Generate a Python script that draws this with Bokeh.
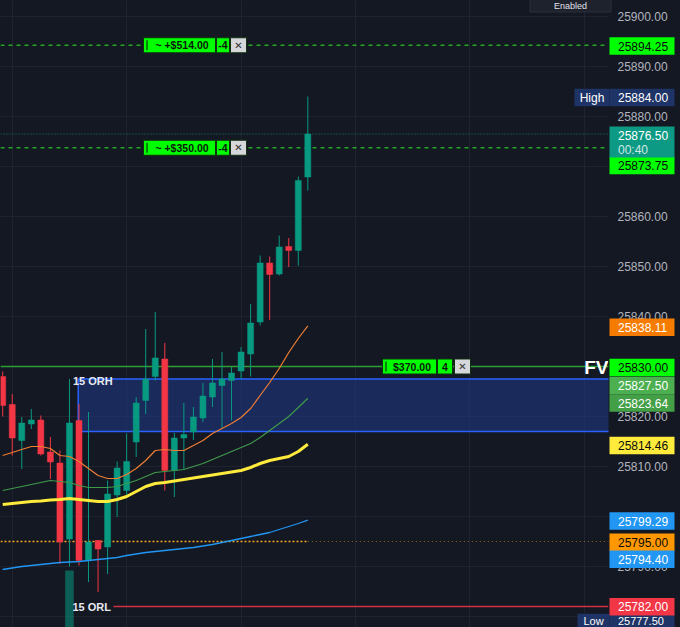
from bokeh.plotting import figure
from bokeh.models import (Range1d, FixedTicker, NumeralTickFormatter, ColumnDataSource,
                          Grid, GlobalInlineStyleSheet)
from bokeh.core.properties import value
from bokeh.embed import file_html
from bokeh.resources import INLINE

# ---------------- data ----------------
candle_idx = list(range(33))
opens = [25828.0, 25822.4, 25815.2, 25818.5, 25819.3, 25812.9, 25810.7, 25795.5, 25819.2, 25791.2,
         25795.2, 25793.9, 25804.3, 25805.2, 25814.9, 25823.2, 25828.0, 25831.5, 25809.2, 25815.7,
         25816.9, 25819.7, 25823.9, 25826.2, 25827.2, 25829.1, 25832.5, 25838.9, 25850.7, 25848.5,
         25854.0, 25853.2, 25867.9]
highs = [25829.0, 25824.5, 25819.9, 25821.5, 25820.2, 25815.9, 25813.2, 25827.5, 25822.5, 25820.9,
         25795.3, 25807.2, 25811.0, 25816.6, 25823.9, 25837.5, 25840.9, 25834.7, 25816.7, 25822.7,
         25821.9, 25826.7, 25831.5, 25832.9, 25829.9, 25833.9, 25842.5, 25852.2, 25852.0, 25856.2,
         25855.7, 25868.0, 25884.0]
lows = [25820.0, 25812.2, 25809.5, 25817.5, 25812.2, 25807.5, 25790.5, 25790.0, 25790.2, 25786.9,
        25784.9, 25788.5, 25799.9, 25804.0, 25811.9, 25820.5, 25827.2, 25805.2, 25803.9, 25809.5,
        25815.3, 25818.9, 25821.9, 25817.7, 25819.2, 25827.5, 25828.0, 25838.2, 25839.3, 25848.2,
        25849.9, 25850.2, 25865.2]
closes = [25822.2, 25815.7, 25818.7, 25819.3, 25812.5, 25810.9, 25794.9, 25818.7, 25791.2, 25794.9,
          25793.5, 25804.5, 25809.7, 25811.0, 25822.7, 25827.5, 25831.7, 25809.2, 25815.7, 25816.4,
          25819.9, 25824.1, 25826.7, 25827.5, 25828.7, 25832.9, 25838.7, 25850.7, 25848.4, 25853.9,
          25853.2, 25867.2, 25876.5]

ema_orange = [25812.2, 25812.8, 25813.4, 25814.0, 25814.0, 25813.6, 25812.2, 25812.0, 25811.0, 25809.6,
              25808.2, 25807.6, 25807.6, 25808.4, 25809.6, 25811.2, 25813.2, 25813.4, 25813.2, 25813.2,
              25814.2, 25815.2, 25816.6, 25817.6, 25818.6, 25819.8, 25821.6, 25824.2, 25826.8, 25829.6,
              25832.8, 25835.6, 25838.11]
ema_green = [25805.2, 25805.6, 25806.0, 25806.4, 25806.8, 25807.2, 25807.0, 25806.8, 25806.2, 25805.8,
             25805.8, 25805.8, 25806.0, 25806.6, 25807.2, 25808.0, 25808.8, 25809.0, 25809.2, 25809.4,
             25810.0, 25810.6, 25811.4, 25812.2, 25813.0, 25813.8, 25814.6, 25815.8, 25817.2, 25818.6,
             25820.0, 25821.8, 25823.64]
ema_yellow = [25802.4, 25802.6, 25802.8, 25803.0, 25803.1, 25803.3, 25803.4, 25803.6, 25803.4, 25803.2,
              25803.0, 25803.0, 25803.4, 25804.0, 25805.0, 25806.0, 25806.6, 25806.8, 25807.1, 25807.4,
              25807.7, 25808.0, 25808.3, 25808.6, 25808.9, 25809.2, 25809.8, 25810.6, 25811.2, 25811.6,
              25812.0, 25813.0, 25814.46]
ema_blue = [25789.4, 25789.7, 25790.0, 25790.2, 25790.4, 25790.6, 25790.8, 25790.9, 25791.0, 25791.2,
            25791.4, 25791.6, 25791.8, 25792.2, 25792.5, 25792.8, 25793.0, 25793.2, 25793.4, 25793.6,
            25793.8, 25794.1, 25794.4, 25794.8, 25795.2, 25795.6, 25796.0, 25796.4, 25796.8, 25797.4,
            25798.0, 25798.6, 25799.29]

volume_idx = [7]
volume_top = [25789.2]

axis_ticks = [25900, 25890, 25880, 25860, 25850, 25840, 25820, 25810, 25790]

fv_level = 25830.0
orh_level = 25827.5
zone_low = 25817.0
orl_level = 25782.0
dotted_level = 25795.0
target_levels = [25894.25, 25873.75]
last_price = 25876.5
countdown = "00:40"

order_main_texts = ["~ +$514.00", "~ +$350.00", "$370.00"]
order_qty_texts = ["-4", "-4", "4"]
order_levels = [25894.25, 25873.75, 25830.0]

tag_texts = ["25894.25", "25884.00", "25873.75", "25838.11", "25830.00", "25827.50", "25823.64",
             "25814.46", "25799.29", "25795.00", "25794.40", "25782.00"]
low_tag_text = "25777.50"

# ---------------- layout / style ----------------
BG = "#141823"
UP, DN = "#089981", "#f23645"
W, H = 680, 627
AXIS_W = 72
FRAME_W = W - AXIS_W
X_START, X_END = -0.231, 63.535
Y_START, Y_END = 25777.8, 25903.2
PX_X = FRAME_W / (X_END - X_START)
PX_Y = H / (Y_END - Y_START)
FONT = value("Liberation Sans")


def rx(px):
    return X_START + px / PX_X


def ry(py):
    return Y_END - py / PX_Y


def dpx(px):
    return px / PX_Y


p = figure(width=W, height=H, output_backend="svg", toolbar_location=None, tools="",
           x_range=Range1d(X_START, X_END), y_range=Range1d(Y_START, Y_END),
           y_axis_location="right", x_axis_location=None,
           min_border_left=0, min_border_top=0, min_border_bottom=0, min_border_right=AXIS_W,
           background_fill_color=BG, border_fill_color=BG, outline_line_color=None,
           stylesheets=[GlobalInlineStyleSheet(css="html, body { background-color: %s; }" % BG)])

p.grid.grid_line_color = None
p.add_layout(Grid(dimension=0, ticker=FixedTicker(ticks=[1, 13, 25, 37, 49, 61]),
                  grid_line_color="#1f2330", grid_line_width=1))
p.add_layout(Grid(dimension=1, ticker=FixedTicker(ticks=list(range(25780, 25901, 10))),
                  grid_line_color="#1f2330", grid_line_width=1))

ax = p.yaxis[0]
ax.ticker = FixedTicker(ticks=axis_ticks)
ax.formatter = NumeralTickFormatter(format="0.00")
ax.major_label_text_color = "#b2b5be"
ax.major_label_text_font = "Liberation Sans"
ax.major_label_text_font_size = "12px"
ax.major_tick_line_color = None
ax.major_tick_out = 0
ax.major_tick_in = 0
ax.minor_tick_line_color = None
ax.minor_tick_out = 0
ax.axis_line_color = None
ax.major_label_standoff = 9

# opening-range zone
p.quad(left=[7.92], right=[X_END + 1], top=[orh_level], bottom=[zone_low],
       fill_color="#1e3a8a", fill_alpha=0.55, line_color="#2962ff", line_width=1.5)

# horizontal levels
p.segment(x0=[X_START], x1=[X_END], y0=[fv_level], y1=[fv_level], line_color="#2e9e37", line_width=1.5)
for lv in target_levels:
    p.segment(x0=[X_START], x1=[X_END], y0=[lv], y1=[lv], line_color="#22a822",
              line_width=1.5, line_dash="4 4")
p.segment(x0=[X_START], x1=[X_END], y0=[last_price], y1=[last_price], line_color=UP,
          line_width=1, line_dash="1 2", line_alpha=0.8)
p.segment(x0=[X_START], x1=[candle_idx[-1]], y0=[dotted_level], y1=[dotted_level],
          line_color="#f5a623", line_width=1.5, line_dash="2 2")
p.segment(x0=[candle_idx[-1]], x1=[X_END], y0=[dotted_level], y1=[dotted_level],
          line_color="#f5a623", line_width=1, line_dash="1 3", line_alpha=0.6)
p.segment(x0=[rx(113)], x1=[X_END], y0=[orl_level], y1=[orl_level], line_color=DN,
          line_width=1.5, line_alpha=0.85)

# volume
p.vbar(x=volume_idx, top=volume_top, bottom=Y_START - 5, width=0.9, fill_color=UP,
       fill_alpha=0.55, line_color=None)

# candles
tops = [max(o, c) for o, c in zip(opens, closes)]
bots = [min(o, c) for o, c in zip(opens, closes)]
colors = [UP if c >= o else DN for o, c in zip(opens, closes)]
csrc = ColumnDataSource(dict(x=candle_idx, h=highs, l=lows, top=tops, bot=bots, color=colors))
p.segment(x0="x", x1="x", y0="l", y1="h", source=csrc, line_color="color", line_width=1)
p.vbar(x="x", top="top", bottom="bot", width=0.63, source=csrc, fill_color="color",
       line_color="color", line_width=0.5)

# moving averages
p.line(candle_idx, ema_blue, line_color="#2196f3", line_width=1.3)
p.line(candle_idx, ema_green, line_color="#3f9a4a", line_width=1.2)
p.line(candle_idx, ema_orange, line_color="#ef7d32", line_width=1.2)
p.line(candle_idx, ema_yellow, line_color="#ffeb3b", line_width=3)

# zone labels
p.text(x=[rx(72.5)], y=[orh_level - dpx(1.5)], text=["15 ORH"], text_font=FONT,
       text_font_size=value("11px"), text_font_style="bold", text_color="#e8eaf0",
       text_baseline="middle", text_align="left")
p.text(x=[rx(72)], y=[orl_level], text=["15 ORL"], text_font=FONT,
       text_font_size=value("11px"), text_font_style="bold", text_color="#e8eaf0",
       text_baseline="middle", text_align="left")
p.text(x=[X_END], y=[fv_level - dpx(0.5)], text=["FV"], text_font=FONT,
       text_font_size=value("19px"), text_font_style="bold", text_color="#ffffff",
       text_baseline="middle", text_align="right")

# order labels
order_boxes = [((143, 215), (216, 229), (230, 246), 146.5),
               ((143, 215), (216, 229), (230, 246), 146.5),
               ((382, 436), (437, 452), (454, 470), 385.5)]
for lv, main_t, qty_t, (mb, qb, cb, barx) in zip(order_levels, order_main_texts,
                                                order_qty_texts, order_boxes):
    hgt = 15
    for (a, b), fill in ((mb, "#00ff00"), (qb, "#00ff00"), (cb, "#d6d7db")):
        p.rect(x=[rx((a + b) / 2)], y=[lv], width=(b - a), height=hgt,
               width_units="screen", height_units="screen", fill_color=fill,
               line_color="#103010", line_width=1)
    p.rect(x=[rx(barx)], y=[lv], width=1.5, height=10, width_units="screen",
           height_units="screen", fill_color="#0b5d0b", line_color=None)
    p.text(x=[rx((mb[0] + 5 + mb[1]) / 2)], y=[lv], text=[main_t], text_font=FONT,
           text_font_size=value("10.5px"), text_font_style="bold", text_color="#0a1a0a",
           text_baseline="middle", text_align="center")
    p.text(x=[rx((qb[0] + qb[1]) / 2)], y=[lv], text=[qty_t], text_font=FONT,
           text_font_size=value("10.5px"), text_font_style="bold", text_color="#0a1a0a",
           text_baseline="middle", text_align="center")
    p.text(x=[rx((cb[0] + cb[1]) / 2)], y=[lv], text=["\u2715"], text_font=value("DejaVu Sans"),
           text_font_size=value("10px"), text_color="#333333",
           text_baseline="middle", text_align="center")

# "Enabled" button
p.rect(x=[rx(570)], y=[ry(-1)], width=81, height=25, width_units="screen",
       height_units="screen", fill_color="#1e222d", line_color="#2a2e39", line_width=1,
       level="overlay")
p.text(x=[rx(570)], y=[ry(5.5)], text=["Enabled"], text_font=FONT, text_font_size=value("9px"),
       text_color="#e0e3eb", text_baseline="middle", text_align="center", level="overlay")

# low tag at the bottom of the scale (drawn first, partly under the ORL tag)
TAG_X = rx(641.5)
TAG_W = 65
TAG_H = 17.5
p.rect(x=[rx(593)], y=[ry(622)], width=32, height=TAG_H, width_units="screen",
       height_units="screen", fill_color="#1e3366", line_color=None, level="overlay")
p.rect(x=[TAG_X], y=[ry(622)], width=TAG_W, height=TAG_H, width_units="screen",
       height_units="screen", fill_color="#1e3366", line_color=None, level="overlay")
p.text(x=[rx(593)], y=[ry(620)], text=["Low"], text_color="#ffffff", text_font=FONT,
       text_font_size=value("11px"), text_baseline="middle", text_align="center", level="overlay")
p.text(x=[rx(617.5)], y=[ry(620)], text=[low_tag_text], text_color="#ffffff", text_font=FONT,
       text_font_size=value("11px"), text_baseline="middle", text_align="left", level="overlay")

# price tags on the scale
tag_values = [float(t) for t in tag_texts]
tag_fill = ["#00ff00", "#1e3366", "#00ff00", "#f57c00", "#00ff00", "#4caf50", "#43a047",
            "#ffeb3b", "#2196f3", "#ff9800", "#2196f3", "#f23645"]
tag_color = ["#0a0a0a", "#ffffff", "#0a0a0a", "#ffffff", "#0a0a0a", "#ffffff", "#ffffff",
             "#0a0a0a", "#ffffff", "#0a0a0a", "#ffffff", "#ffffff"]
tag_shift = [0.8, 1, 17.8, 1.2, 1, 6.5, 4.7, 1.3, 1, 0.7, 14.7, 0.3]
tag_y = [v - dpx(s) for v, s in zip(tag_values, tag_shift)]
tsrc = ColumnDataSource(dict(y=tag_y, text=tag_texts, fill=tag_fill, color=tag_color))
p.rect(x=TAG_X, y="y", width=TAG_W, height=TAG_H, width_units="screen", height_units="screen",
       fill_color="fill", line_color=None, source=tsrc, level="overlay")
p.text(x=rx(617.5), y="y", text="text", text_color="color", text_font=FONT,
       text_font_size=value("12px"), text_baseline="middle", text_align="left",
       source=tsrc, level="overlay")

# last price tag with countdown
p.rect(x=[TAG_X], y=[ry(141.5)], width=TAG_W, height=31, width_units="screen",
       height_units="screen", fill_color="#0c9a84", line_color=None, level="overlay")
p.text(x=[rx(617.5)], y=[ry(135)], text=["25876.50"], text_color="#ffffff", text_font=FONT,
       text_font_size=value("12px"), text_baseline="middle", text_align="left", level="overlay")
p.text(x=[rx(617.5)], y=[ry(149)], text=[countdown], text_color="#cfe9e4", text_font=FONT,
       text_font_size=value("12px"), text_baseline="middle", text_align="left", level="overlay")

# High caption next to the scale
p.rect(x=[rx(591.5)], y=[tag_y[1]], width=35, height=TAG_H, width_units="screen",
       height_units="screen", fill_color="#1e3366", line_color=None, level="overlay")
p.text(x=[rx(591.5)], y=[tag_y[1]], text=["High"], text_color="#ffffff", text_font=FONT,
       text_font_size=value("12px"), text_baseline="middle", text_align="center", level="overlay")

open("out.html", "w").write(file_html(p, INLINE))
